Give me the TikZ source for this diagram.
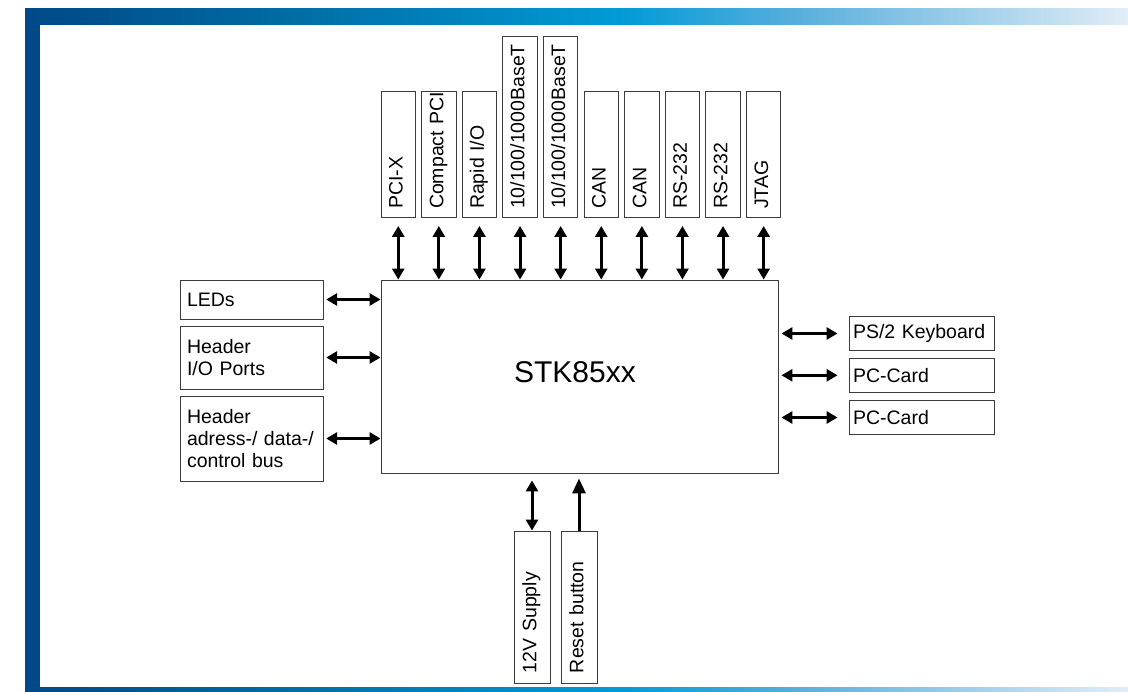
\documentclass[tikz,border=0pt]{standalone}
\usepackage{fontspec}
\setmainfont{Liberation Sans}
\usetikzlibrary{arrows.meta}
\definecolor{fa}{RGB}{0,72,135}
\definecolor{fb}{RGB}{0,110,165}
\definecolor{fc}{RGB}{0,155,215}
\definecolor{fd}{RGB}{90,175,220}
\definecolor{fe}{RGB}{225,237,247}
\definecolor{boxc}{RGB}{60,60,60}
\begin{document}
\begin{tikzpicture}[x=1pt,y=-1pt,
  bx/.style={draw=boxc, line width=0.9pt},
  txt/.style={font=\fontsize{19.5}{22}\selectfont},
  vbox/.style={bx, txt, rotate=90, minimum height=34.5pt, inner xsep=8.5pt, inner ysep=0pt, text width=#1, align=left},
  bbox/.style={bx, txt, rotate=90, minimum height=36pt, inner xsep=10pt, inner ysep=0pt, text width=#1, align=left},
  hbox/.style={bx, txt, inner ysep=0pt, align=left},
  arr/.style={line width=3pt, {Triangle[length=11pt,width=12pt]}-{Triangle[length=11pt,width=12pt]}},
  arrone/.style={line width=3pt, -{Triangle[length=15pt,width=13pt]}},
]
\useasboundingbox (0,0) rectangle (1128,692);
% frame
\fill[fa] (25,9) rectangle (40,692);
\shade[left color=fa, right color=fb] (25,9) rectangle (300.5,25);
\shade[left color=fb, right color=fc] (300,9) rectangle (620.5,25);
\shade[left color=fc, right color=fd] (620,9) rectangle (800.5,25);
\shade[left color=fd, right color=fe] (800,9) rectangle (1128,25);
\shade[left color=fa, right color=fb] (25,687) rectangle (300.5,692);
\shade[left color=fb, right color=fc] (300,687) rectangle (620.5,692);
\shade[left color=fc, right color=fd] (620,687) rectangle (800.5,692);
\shade[left color=fd, right color=fe] (800,687) rectangle (1128,692);

% main
\node[bx, minimum width=397pt, minimum height=193pt, inner sep=0pt] (main) at (579.5,376.5) {};
\node[font=\fontsize{30}{36}\selectfont, inner sep=0pt] (title) at (575,372.5) {STK85xx};

% top
\node[vbox=109.5pt] (t1) at (398.25,154.25) {\strut\mbox{PCI-X}};
\node[vbox=109.5pt] (t2) at (438.85,154.25) {\strut\mbox{Compact PCI}};
\node[vbox=109.5pt] (t3) at (479.45,154.25) {\strut\mbox{Rapid I/O}};
\node[vbox=164.5pt] (t4) at (520.05,126.75) {\strut\mbox{10/100/1000BaseT}};
\node[vbox=164.5pt] (t5) at (560.65,126.75) {\strut\mbox{10/100/1000BaseT}};
\node[vbox=109.5pt] (t6) at (601.25,154.25) {\strut\mbox{CAN}};
\node[vbox=109.5pt] (t7) at (641.85,154.25) {\strut\mbox{CAN}};
\node[vbox=109.5pt] (t8) at (682.45,154.25) {\strut\mbox{RS-232}};
\node[vbox=109.5pt] (t9) at (723.05,154.25) {\strut\mbox{RS-232}};
\node[vbox=109.5pt] (t10) at (763.65,154.25) {\strut\mbox{JTAG}};
\foreach \n in {t1,t2,t3,t4,t5,t6,t7,t8,t9,t10}
  \draw[arr, shorten <=8pt] (\n.west) -- (\n.west |- main.north);

% left
\node[hbox, inner xsep=7pt, text width=129.7pt, minimum height=39pt] (leds) at (251.85,299.5) {LEDs};
\node[hbox, inner xsep=7pt, text width=129.7pt, minimum height=63pt] (hio) at (251.85,357.5) {Header\\I/O Ports};
\node[hbox, inner xsep=7pt, text width=129.7pt, minimum height=85pt] (hbus) at (251.85,438.5) {Header\\adress-/ data-/\\control bus};
\foreach \n in {leds,hio,hbus}
  \draw[arr, shorten <=2pt] (\n.east) -- (main.west |- \n.east);

% right
\node[hbox, inner xsep=4pt, text width=137pt, minimum height=34pt] (ps2) at (921.5,333.5) {\mbox{PS/2 Keyboard}};
\node[hbox, inner xsep=4pt, text width=137pt, minimum height=34pt] (pc1) at (921.5,375.3) {PC-Card};
\node[hbox, inner xsep=4pt, text width=137pt, minimum height=34pt] (pc2) at (921.5,417.5) {PC-Card};
\foreach \n in {ps2,pc1,pc2}
  \draw[arr, shorten <=3pt, shorten >=11pt] (main.east |- \n.west) -- (\n.west);

% bottom
\node[bbox=132pt] (v12) at (532,607) {\strut\mbox{12V Supply}};
\node[bbox=132pt] (rst) at (579,607) {\strut\mbox{Reset button}};
\draw[arr, shorten >=7pt] (v12.east) -- (v12.east |- main.south);
\draw[arrone, shorten >=5pt] (rst.east) -- (rst.east |- main.south);
\end{tikzpicture}
\end{document}
